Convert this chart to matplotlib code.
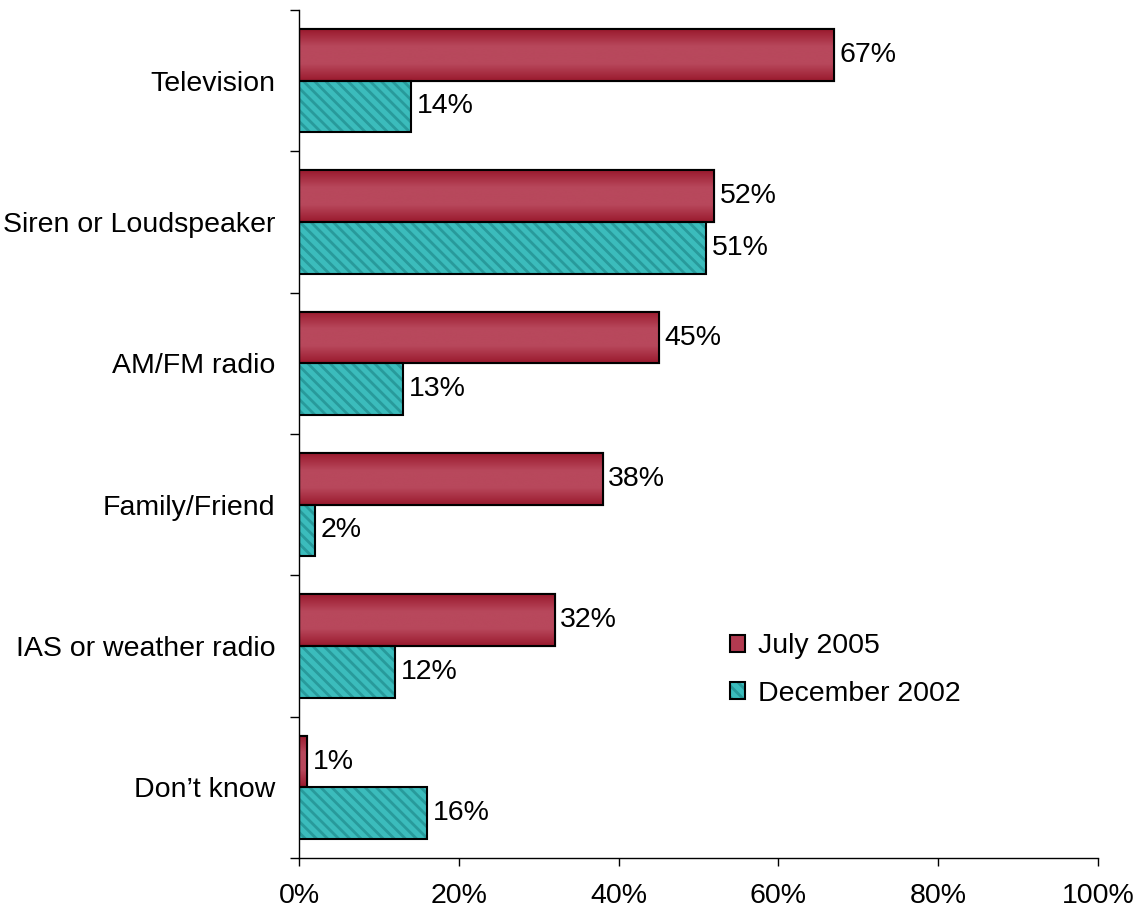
import matplotlib
matplotlib.use("Agg")
import matplotlib.pyplot as plt
import numpy as np
from matplotlib.patches import Patch, Rectangle

categories = ["Television", "Siren or Loudspeaker", "AM/FM radio", "Family/Friend",
              "IAS or weather radio", "Don\u2019t know"]
july_2005 = [67, 52, 45, 38, 32, 1]
dec_2002 = [14, 51, 13, 2, 12, 16]
series_names = ["July 2005", "December 2002"]
xticks = [0, 20, 40, 60, 80, 100]

plt.rcParams['font.family'] = ['Liberation Sans', 'DejaVu Sans']
plt.rcParams['hatch.linewidth'] = 2.0

W, H = 1139, 917
fig = plt.figure(figsize=(W / 100, H / 100), dpi=100)
ax = fig.add_axes([299 / W, 59 / H, (1098 - 299) / W, (858 - 10) / H])

n = len(categories)
pos = np.arange(n)
bh = 0.365

red_edge = '#9a1a2e'
red_mid = '#b8485c'
teal = '#3bbcbc'
hatch_col = '#289a9b'
hatch = '\\\\\\'

cmap = matplotlib.colors.LinearSegmentedColormap.from_list(
    'rg', [red_edge, red_mid, red_mid, red_edge])

bars1 = ax.barh(pos - bh / 2, july_2005, height=bh, color=red_mid,
                edgecolor='black', linewidth=1.5, zorder=2)
bars2 = ax.barh(pos + bh / 2, dec_2002, height=bh, color=teal,
                edgecolor='none', linewidth=0, zorder=2)
ax.barh(pos + bh / 2, dec_2002, height=bh, facecolor='none',
        edgecolor=hatch_col, linewidth=0, hatch=hatch, zorder=2.1)
ax.barh(pos + bh / 2, dec_2002, height=bh, facecolor='none',
        edgecolor='black', linewidth=1.5, zorder=2.2)

grad = np.linspace(0, 1, 100).reshape(-1, 1)
for b in bars1:
    x0, y0 = b.get_x(), b.get_y()
    w, h = b.get_width(), b.get_height()
    im = ax.imshow(grad, cmap=cmap, aspect='auto', extent=[x0, x0 + w, y0 + h, y0],
                   zorder=2.1, interpolation='bicubic')
    im.set_clip_path(b)
    ax.barh(y0 + h / 2, w, height=h, left=x0, facecolor='none', edgecolor='black',
            linewidth=1.5, zorder=2.2)

fs = 20.5
for b, v in zip(bars1, july_2005):
    ax.text(b.get_width() + 0.7, b.get_y() + b.get_height() / 2, f"{v}%",
            va='center', ha='left', fontsize=fs)
for b, v in zip(bars2, dec_2002):
    ax.text(b.get_width() + 0.7, b.get_y() + b.get_height() / 2, f"{v}%",
            va='center', ha='left', fontsize=fs)

ax.set_xlim(0, 100)
ax.set_ylim(n - 0.5, -0.5)
ax.set_xticks(xticks)
ax.set_xticklabels([f"{t}%" for t in xticks], fontsize=fs)
ax.tick_params(axis='x', direction='out', length=6, width=1, pad=12)

ax.set_yticks(pos)
ax.set_yticklabels(categories, fontsize=fs)
ax.tick_params(axis='y', which='major', length=0, pad=17)
ax.set_yticks(np.arange(n + 1) - 0.5, minor=True)
ax.tick_params(axis='y', which='minor', direction='out', length=6.5, width=1)

for s in ['top', 'right']:
    ax.spines[s].set_visible(False)
for s in ['left', 'bottom']:
    ax.spines[s].set_linewidth(1)
    ax.spines[s].set_color('black')


class HatchHandler:
    def legend_artist(self, legend, orig_handle, fontsize, handlebox):
        x0, y0 = handlebox.xdescent, handlebox.ydescent
        w, h = handlebox.width, handlebox.height
        tr = handlebox.get_transform()
        r1 = Rectangle((-x0, -y0), w, h, facecolor=teal, edgecolor='none',
                       linewidth=0, transform=tr)
        r2 = Rectangle((-x0, -y0), w, h, facecolor='none', edgecolor=hatch_col,
                       linewidth=0, hatch=hatch, transform=tr)
        r3 = Rectangle((-x0, -y0), w, h, facecolor='none', edgecolor='black',
                       linewidth=1.5, transform=tr)
        for r in (r1, r2, r3):
            handlebox.add_artist(r)
        return r3


h_red = Patch(facecolor='#b23a50', edgecolor='black', linewidth=1.5)
h_teal = Patch(facecolor=teal, edgecolor='black', linewidth=1.5)
ax.legend([h_red, h_teal], series_names, loc='upper left', bbox_to_anchor=(0.507, 0.295),
          frameon=False, fontsize=fs, handlelength=0.55, handleheight=0.55,
          handletextpad=0.45, labelspacing=0.75,
          handler_map={h_teal: HatchHandler()})

fig.savefig("out.png", dpi=100)
